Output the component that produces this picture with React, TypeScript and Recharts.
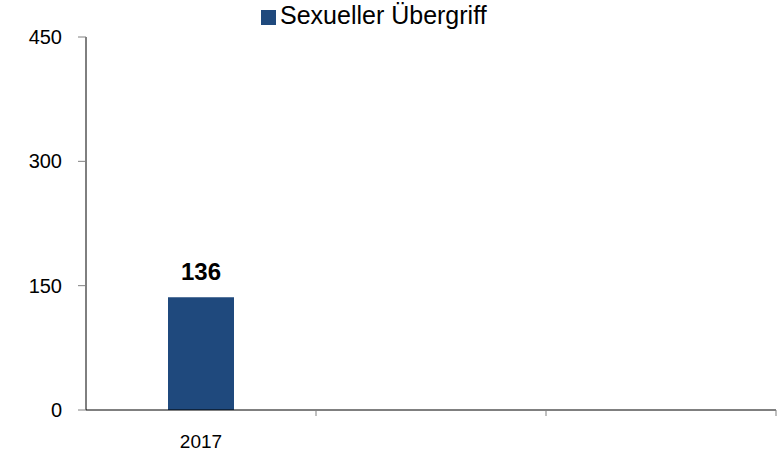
import { BarChart, Bar, XAxis, YAxis, Legend, LabelList } from 'recharts';

const years = ['2017', '', ''];
const sexuellerUebergriff = [136, null, null];
const yTicks = [0, 150, 300, 450];

const SERIES_NAME = 'Sexueller Übergriff';
const BAR_COLOR = '#1F497D';
const FONT = 'Arial, "Liberation Sans", sans-serif';

const data = years.map((year, i) => ({ year, value: sexuellerUebergriff[i] }));

// tick mark sits on the right edge of each category band, label in the middle
const BandTick = (props: any) => {
  const { x, y, payload } = props;
  const edge = x + (payload.offset || 0);
  return (
    <g>
      <line x1={edge} y1={y} x2={edge} y2={y + 6} stroke="#808080" strokeWidth={1} />
      <text x={x} y={y + 38} textAnchor="middle" fontSize={19} fontFamily={FONT} fill="#000">
        {payload.value}
      </text>
    </g>
  );
};

export default function App() {
  return (
    <div style={{ position: 'absolute', left: 0, top: 0, background: '#fff' }}>
      <BarChart
        width={784}
        height={454}
        data={data}
        margin={{ top: 37, right: 8, bottom: 14, left: 26 }}
        barCategoryGap={0}
      >
        <Legend
          verticalAlign="middle"
          align="center"
          layout="horizontal"
          iconType="square"
          iconSize={15}
          wrapperStyle={{ left: 261, top: 1, width: 'auto', fontFamily: FONT, fontSize: 25 }}
          formatter={(value) => <span style={{ color: '#000' }}>{value}</span>}
        />
        <XAxis
          dataKey="year"
          height={30}
          axisLine={{ stroke: '#000' }}
          tickLine={false}
          tickSize={0}
          tickMargin={0}
          tick={<BandTick />}
          interval={0}
          padding={{ left: 0, right: 0 }}
        />
        <YAxis
          domain={[0, 450]}
          ticks={yTicks}
          width={60}
          axisLine={{ stroke: '#000' }}
          tickLine={{ stroke: '#808080' }}
          tickSize={8}
          tickMargin={16}
          tick={{ fill: '#000', fontSize: 20, fontFamily: FONT }}
        />
        <Bar dataKey="value" name={SERIES_NAME} fill={BAR_COLOR} barSize={66} isAnimationActive={false}>
          <LabelList
            dataKey="value"
            position="top"
            offset={17}
            style={{ fill: '#000', fontSize: 24, fontWeight: 'bold', fontFamily: FONT }}
          />
        </Bar>
      </BarChart>
    </div>
  );
}
